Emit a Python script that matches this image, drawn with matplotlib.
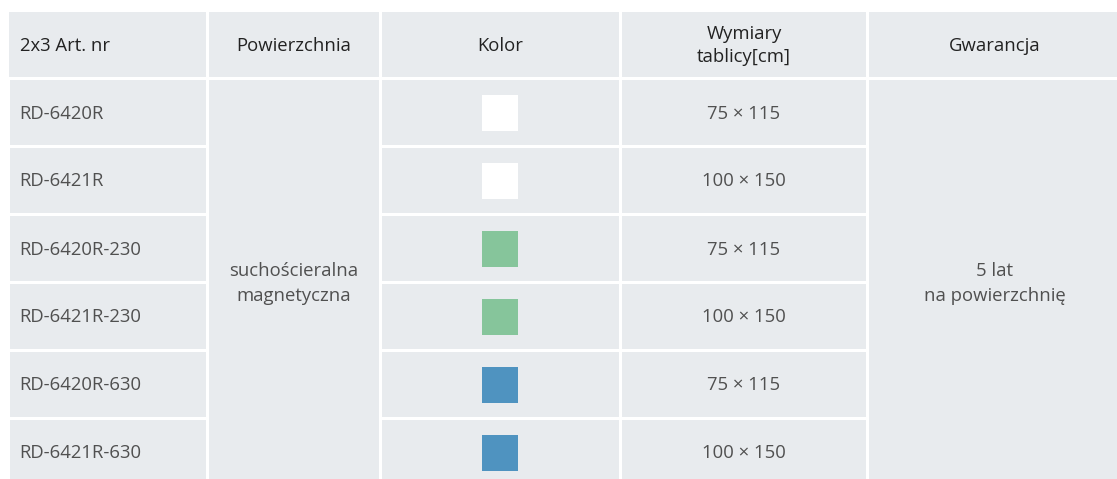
import matplotlib
matplotlib.use("Agg")
import matplotlib.pyplot as plt
from matplotlib.patches import Rectangle

plt.rcParams['font.family'] = ['Open Sans', 'DejaVu Sans']

# table content
headers = ["2x3 Art. nr", "Powierzchnia", "Kolor", "Wymiary\ntablicy[cm]", "Gwarancja"]
art_nr = ["RD-6420R", "RD-6421R", "RD-6420R-230", "RD-6421R-230", "RD-6420R-630", "RD-6421R-630"]
swatch = ["#ffffff", "#ffffff", "#86c59b", "#86c59b", "#4f93c0", "#4f93c0"]
sizes = ["75 × 115", "100 × 150", "75 × 115", "100 × 150", "75 × 115", "100 × 150"]
surface = "suchościeralna\nmagnetyczna"
warranty = "5 lat\nna powierzchnię"

# layout in pixels
W, H = 1117, 479
col_x = [9, 209, 382, 622, 869]
col_r = [206, 379, 619, 866, 1120]
head_top, head_bot = 12, 77
row_top0, row_pitch, row_h = 80, 68, 65
cell_bg = "#e8ebee"
head_col = "#222222"
body_col = "#505050"
fs = 13.3

fig = plt.figure(figsize=(W / 100, H / 100), dpi=100)
ax = fig.add_axes([0, 0, 1, 1])
ax.set_xlim(0, W)
ax.set_ylim(H, 0)
ax.axis("off")

def cell(x0, x1, y0, y1):
    ax.add_patch(Rectangle((x0, y0), x1 - x0, y1 - y0, facecolor=cell_bg, edgecolor="none"))

# header
for i, h in enumerate(headers):
    cell(col_x[i], col_r[i], head_top, head_bot)
    yc = (head_top + head_bot) / 2 + 1
    if i == 0:
        ax.text(col_x[i] + 11, yc, h, ha="left", va="center", fontsize=fs, color=head_col)
    else:
        ax.text((col_x[i] + col_r[i]) / 2, yc, h, ha="center", va="center",
                fontsize=fs, color=head_col, linespacing=1.4)

n = len(art_nr)
body_top = row_top0
body_bot = row_top0 + (n - 1) * row_pitch + row_h

# merged columns
cell(col_x[1], col_r[1], body_top, body_bot)
cell(col_x[4], col_r[4], body_top, body_bot)
ax.text((col_x[1] + col_r[1]) / 2, (body_top + body_bot) / 2 + 1, surface, ha="center", va="center",
        fontsize=fs, color=body_col, linespacing=1.45)
ax.text((col_x[4] + col_r[4]) / 2, (body_top + body_bot) / 2 + 1, warranty, ha="center", va="center",
        fontsize=fs, color=body_col, linespacing=1.45)

sq = 36
for r in range(n):
    y0 = row_top0 + r * row_pitch
    y1 = y0 + row_h
    yc = (y0 + y1) / 2 + 1
    cell(col_x[0] + 1, col_r[0], y0, y1)
    cell(col_x[2], col_r[2], y0, y1)
    cell(col_x[3], col_r[3], y0, y1)
    ax.text(col_x[0] + 10, yc, art_nr[r], ha="left", va="center", fontsize=fs, color=body_col)
    ax.add_patch(Rectangle((482, yc - 1 - sq / 2), sq, sq, facecolor=swatch[r], edgecolor="none"))
    ax.text((col_x[3] + col_r[3]) / 2, yc, sizes[r], ha="center", va="center",
            fontsize=fs, color=body_col)

fig.savefig("out.png", dpi=100, facecolor="white")
